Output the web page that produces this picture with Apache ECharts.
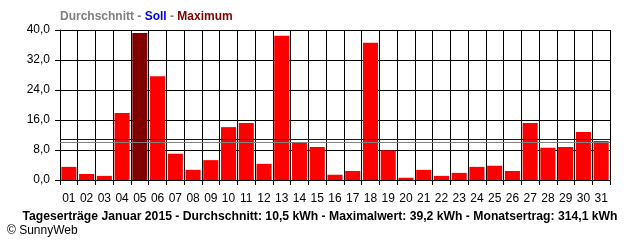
<!DOCTYPE html>
<html><head><meta charset="utf-8">
<script src="https://cdn.jsdelivr.net/npm/echarts@6/dist/echarts.min.js"></script>
<style>html,body{margin:0;padding:0;background:#fff}#c{width:640px;height:240px}</style>
</head><body><div id="c"></div>
<script>
const days = ['01','02','03','04','05','06','07','08','09','10','11','12','13','14','15','16','17','18','19','20','21','22','23','24','25','26','27','28','29','30','31'];
const yields = [3.5,1.6,1.1,17.9,39.2,27.7,7.0,2.7,5.3,14.1,15.2,4.3,38.5,10.1,8.8,1.4,2.4,36.6,7.9,0.6,2.7,1.1,1.9,3.5,3.8,2.4,15.2,8.6,8.8,12.8,10.4];
const averageLine = [10.0];
const targetLine = [10.8];
const yTicks = [0, 8, 16, 24, 32, 40];

const maxVal = Math.max(...yields);
const chart = echarts.init(document.getElementById('c'), null, {renderer:'canvas'});
const font = 'Liberation Sans, Arial, sans-serif';
function refLine(name, value, color) {
  return {type:'line', name:name, data:[], z:10, silent:true,
    markLine:{silent:true, symbol:'none', label:{show:false}, animation:false,
      lineStyle:{color:color, width:1, type:'solid', opacity:1},
      emphasis:{disabled:true},
      data:[{yAxis:value}]}};
}
chart.setOption({
  animation:false,
  title:[
    {text:'{g|Durchschnitt - }{b|Soll}{g| - }{r|Maximum}', left:60, top:11, padding:0,
     textStyle:{rich:{
       g:{color:'#808080', fontWeight:'bold', fontSize:12, fontFamily:font},
       b:{color:'#0000ff', fontWeight:'bold', fontSize:12, fontFamily:font},
       r:{color:'#800000', fontWeight:'bold', fontSize:12, fontFamily:font}}}},
    {text:'Tageserträge Januar 2015 - Durchschnitt: 10,5 kWh - Maximalwert: 39,2 kWh - Monatsertrag: 314,1 kWh',
     left:'center', top:211, padding:0, textStyle:{color:'#000', fontWeight:'bold', fontSize:12.2, fontFamily:font}},
    {text:'© SunnyWeb', left:7, top:225, padding:0, textStyle:{color:'#000', fontWeight:'normal', fontSize:12, fontFamily:font}}
  ],
  grid:{left:60, right:30, top:30, height:150, containLabel:false},
  xAxis:{type:'category', data:days, boundaryGap:true,
    axisLine:{show:true, lineStyle:{color:'#000', width:1}},
    axisTick:{show:true, length:5, lineStyle:{color:'#000'}},
    axisLabel:{color:'#000', fontSize:12, fontFamily:font, margin:13, interval:0},
    splitLine:{show:true, lineStyle:{color:'#000', width:1}}},
  yAxis:{type:'value', min:yTicks[0], max:yTicks[yTicks.length-1], interval:8,
    axisLine:{show:true, lineStyle:{color:'#000'}},
    axisTick:{show:true, length:5, lineStyle:{color:'#000'}},
    axisLabel:{color:'#000', fontSize:12, fontFamily:font, margin:10, padding:[3,0,0,0],
      formatter:v=>v.toFixed(1).replace('.',',')},
    splitLine:{show:true, lineStyle:{color:'#000', width:1}}},
  series:[
    {type:'bar', barWidth:'85%',
     data:yields.map(v=>({value:v, itemStyle:{color: v===maxVal?'#800000':'#ff0000'}}))},
    refLine('Soll', targetLine[0], '#0000ff'),
    refLine('Durchschnitt', averageLine[0], '#808080')
  ]
});
</script></body></html>
